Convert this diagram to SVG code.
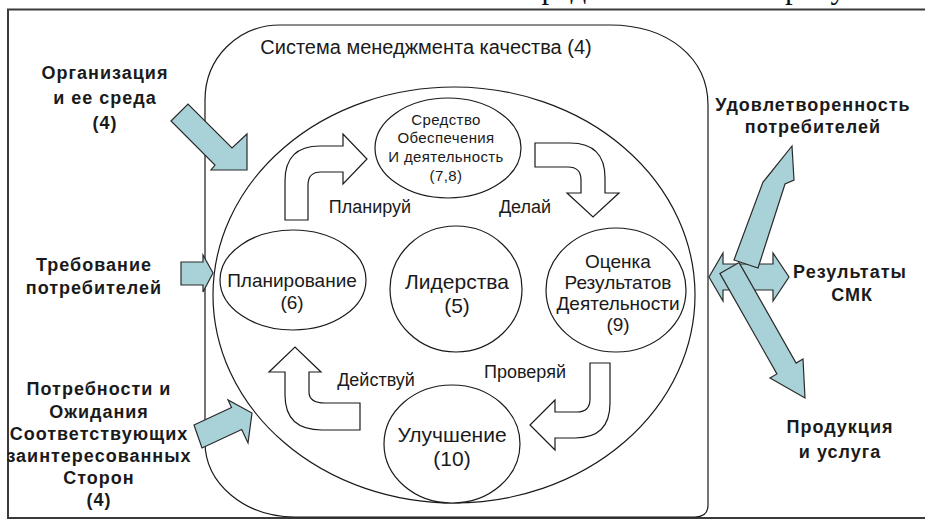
<svg xmlns="http://www.w3.org/2000/svg" width="925" height="520" viewBox="0 0 925 520">
<style>
.ln{fill:none;stroke:#1a1a1a;stroke-width:1.2}
.nd{fill:#fff;stroke:#1a1a1a;stroke-width:1.2}
.wa{fill:#fff;stroke:#1a1a1a;stroke-width:1.2;stroke-linejoin:miter}
.ba{fill:#a9d2d8;stroke:#2a2a2a;stroke-width:1.2;stroke-linejoin:miter}
.t{font-family:"Liberation Sans",Arial,sans-serif;fill:#1a1a1a;text-anchor:middle}
.b{font-family:"Liberation Sans",Arial,sans-serif;font-weight:bold;fill:#1a1a1a;text-anchor:middle;font-size:18px;letter-spacing:1px}
.l{font-size:18px}
</style>
<rect width="925" height="520" fill="#fff"/>
<text x="525" y="-2" font-family="'Liberation Serif',serif" font-size="31" fill="#111">представлены на <tspan x="785">рисунке</tspan></text>
<rect x="8" y="9.5" width="1000" height="508.5" fill="none" stroke="#3a3a3a" stroke-width="2"/>

<g id="qms">
<path class="ln" d="M280,25 L610,25 C668,25 708,58 708,105 L708,505 Q708,517 695,517 L295,517 C245,517 205,484 205,442 L205,100 C205,58 238,25 280,25 Z"/>
<text class="t" x="426" y="54" font-size="20">Система менеджмента качества (4)</text>
<ellipse class="ln" cx="454" cy="295" rx="241" ry="208"/>
</g>

<g id="support">
<ellipse class="nd" cx="448" cy="148" rx="73" ry="50"/>
<text class="t" x="446" font-size="15" letter-spacing="0.4"><tspan x="446" y="125">Средство</tspan><tspan x="446" y="143">Обеспечения</tspan><tspan x="446" y="162">И деятельность</tspan><tspan x="446" y="181">(7,8)</tspan></text>
</g>
<g id="planning">
<ellipse class="nd" cx="293" cy="280" rx="73" ry="50"/>
<text class="t" font-size="19"><tspan x="292" y="287">Планирование</tspan><tspan x="292" y="309">(6)</tspan></text>
</g>
<g id="leadership">
<ellipse class="nd" cx="456" cy="289" rx="66" ry="63"/>
<text class="t" font-size="21"><tspan x="457" y="289">Лидерства</tspan><tspan x="457" y="313">(5)</tspan></text>
</g>
<g id="evaluation">
<ellipse class="nd" cx="616" cy="290" rx="70" ry="62"/>
<text class="t" font-size="19"><tspan x="618" y="268">Оценка</tspan><tspan x="618" y="289">Результатов</tspan><tspan x="618" y="310">Деятельности</tspan><tspan x="618" y="331">(9)</tspan></text>
</g>
<g id="improvement">
<ellipse class="nd" cx="452" cy="444" rx="68" ry="59"/>
<text class="t" font-size="21"><tspan x="452" y="442">Улучшение</tspan><tspan x="452" y="466">(10)</tspan></text>
</g>

<g id="connectors">
<path class="wa" d="M285,220 L285,181 Q285,146 320,146 L343,146 L343,134 L367,159 L343,184 L343,172 L321,172 Q308,172 308,185 L308,220 Z"/>
<path class="wa" d="M535,143 L570,143 Q605,143 605,178 L605,193 L619,193 L593,217 L567,193 L581,193 L581,180 Q581,167 568,167 L535,167 Z"/>
<path class="wa" d="M590,363 L610,363 L610,403 Q610,438 575,438 L555,438 L555,450 L530,425 L555,400 L555,412 L577,412 Q590,412 590,399 Z"/>
<path class="wa" d="M360,403 L360,430 L322,430 Q285,430 285,395 L285,372 L269,372 L295,347 L321,372 L309,372 L309,392 Q309,403 325,403 Z"/>
<polygon class="ba" points="171,121 188,104 232,148 247,134 247,170 211,170 215,165"/>
<polygon class="ba" points="181,262 203,262 203,255 213,273 203,292 203,285 181,285"/>
<polygon class="ba" points="194,425 231.5,407.5 228,400 252,413 248,443 241.7,429.5 202,448"/>
<polygon class="ba" points="709,277 723,253 723,264 773,264 773,253 789,277 773,301 773,290 723,290 723,301"/>
<polygon class="ba" points="792,146 794,180 785,184 758,268 734,260 763,182 768,176"/>
<polygon class="ba" points="739.1,262.6 796.1,363.1 803,359 805,398 770,378 776.9,373.9 719.9,273.4"/>
<text class="t l" x="370" y="213">Планируй</text>
<text class="t l" x="525" y="213">Делай</text>
<text class="t l" x="376" y="386">Действуй</text>
<text class="t l" x="525" y="378">Проверяй</text>
</g>

<g id="org-context">
<text class="b"><tspan x="105" y="79">Организация</tspan><tspan x="105" y="104">и ее среда</tspan><tspan x="105" y="129">(4)</tspan></text>
</g>
<g id="customer-req">
<text class="b"><tspan x="94" y="271">Требование</tspan><tspan x="94" y="294">потребителей</tspan></text>
</g>
<g id="interested-parties">
<text class="b"><tspan x="99" y="395">Потребности и</tspan><tspan x="99" y="418">Ожидания</tspan><tspan x="99" y="440">Соответствующих</tspan><tspan x="99" y="462">заинтересованных</tspan><tspan x="99" y="484">Сторон</tspan><tspan x="99" y="506">(4)</tspan></text>
</g>
<g id="satisfaction">
<text class="b"><tspan x="813" y="111">Удовлетворенность</tspan><tspan x="813" y="133">потребителей</tspan></text>
</g>
<g id="results">
<text class="b"><tspan x="850" y="278">Результаты</tspan><tspan x="852" y="301">СМК</tspan></text>
</g>
<g id="products">
<text class="b"><tspan x="840" y="433">Продукция</tspan><tspan x="840" y="458">и услуга</tspan></text>
</g>
</svg>
